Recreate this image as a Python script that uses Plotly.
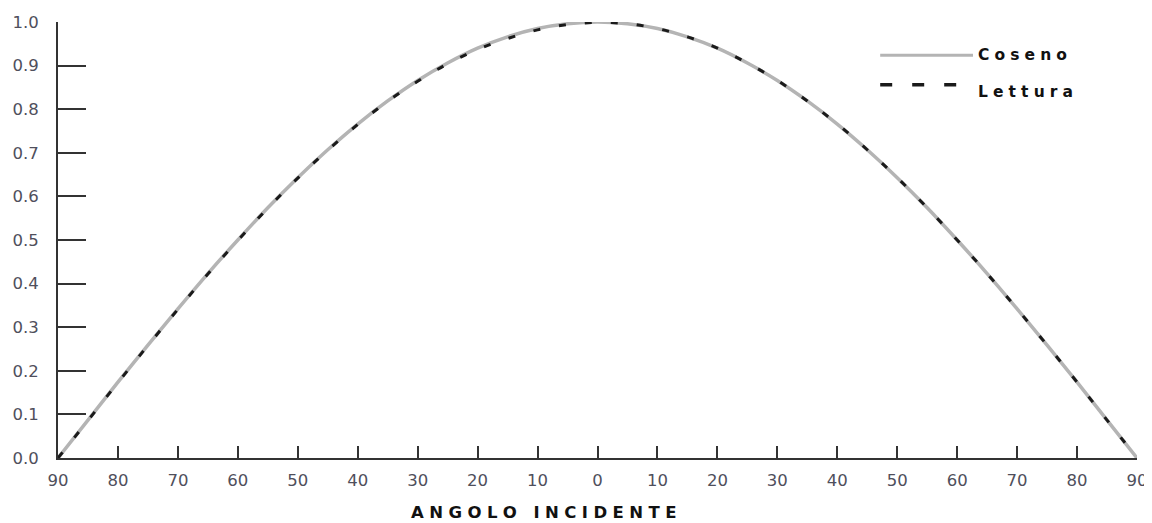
import plotly.graph_objects as go

# incidence angle, degrees (left half shown as 90..0, right half 0..90)
angles = [-90, -85, -80, -75, -70, -65, -60, -55, -50, -45, -40, -35, -30,
          -25, -20, -15, -10, -5, 0, 5, 10, 15, 20, 25, 30, 35, 40, 45, 50,
          55, 60, 65, 70, 75, 80, 85, 90]

coseno = [0.000, 0.087, 0.174, 0.259, 0.342, 0.423, 0.500, 0.574, 0.643,
          0.707, 0.766, 0.819, 0.866, 0.906, 0.940, 0.966, 0.985, 0.996,
          1.000, 0.996, 0.985, 0.966, 0.940, 0.906, 0.866, 0.819, 0.766,
          0.707, 0.643, 0.574, 0.500, 0.423, 0.342, 0.259, 0.174, 0.087,
          0.000]

lettura = [0.000, 0.086, 0.173, 0.258, 0.341, 0.422, 0.499, 0.573, 0.642,
           0.706, 0.765, 0.818, 0.864, 0.904, 0.937, 0.962, 0.982, 0.994,
           0.999, 0.996, 0.985, 0.966, 0.940, 0.906, 0.866, 0.819, 0.766,
           0.707, 0.643, 0.574, 0.500, 0.423, 0.342, 0.259, 0.174, 0.087,
           0.000]

x_ticks = [-90, -80, -70, -60, -50, -40, -30, -20, -10, 0,
           10, 20, 30, 40, 50, 60, 70, 80, 90]
x_ticktext = ["90", "80", "70", "60", "50", "40", "30", "20", "10", "0",
              "10", "20", "30", "40", "50", "60", "70", "80", "90"]
y_ticks = [0.0, 0.1, 0.2, 0.3, 0.4, 0.5, 0.6, 0.7, 0.8, 0.9, 1.0]

TICK_FONT = dict(family="DejaVu Sans", size=16.5, color="#4f4f5c")
BOLD_FONT = dict(family="DejaVu Sans", size=15.5, color="#111111", weight="bold")


def spaced(s):
    # wide letter spacing as in the original
    return "\u2004".join(s)


fig = go.Figure()

fig.add_trace(go.Scatter(
    x=angles, y=coseno, mode="lines", name="Coseno",
    line=dict(color="#b4b4b4", width=3.5, shape="spline"),
    showlegend=False,
))
fig.add_trace(go.Scatter(
    x=angles, y=lettura, mode="lines", name="Lettura",
    line=dict(color="#1a1a1a", width=3, dash="7px,19px", shape="spline"),
    showlegend=False,
))

# hand-drawn legend, top right
fig.add_shape(type="line", xref="paper", yref="paper",
              x0=0.762, x1=0.848, y0=0.924, y1=0.924,
              line=dict(color="#b4b4b4", width=3))
fig.add_shape(type="line", xref="paper", yref="paper",
              x0=0.762, x1=0.834, y0=0.856, y1=0.856,
              line=dict(color="#1a1a1a", width=3.5, dash="12px,20px"))
fig.add_annotation(text=spaced("Coseno"), xref="paper", yref="paper",
                   x=0.851, y=0.924, xanchor="left", yanchor="middle",
                   showarrow=False, font=BOLD_FONT)
fig.add_annotation(text=spaced("Lettura"), xref="paper", yref="paper",
                   x=0.851, y=0.839, xanchor="left", yanchor="middle",
                   showarrow=False, font=BOLD_FONT)

# x axis title
fig.add_annotation(text=spaced("ANGOLO INCIDENTE"), xref="paper", yref="paper",
                   x=0.45, y=-0.126, xanchor="center", yanchor="middle",
                   showarrow=False,
                   font=dict(family="DejaVu Sans", size=16.5, color="#111111",
                             weight="bold"))

# page body adds 8px offset, so the figure is sized to fit the window
fig.update_layout(
    width=1144, height=515,
    margin=dict(l=50, r=15, t=14, b=65),
    plot_bgcolor="white", paper_bgcolor="white",
    xaxis=dict(
        range=[-90, 90], tickvals=x_ticks, ticktext=x_ticktext,
        showgrid=False, zeroline=False, automargin=False,
        showline=True, linecolor="#333333", linewidth=2,
        ticks="inside", ticklen=12, tickwidth=2, tickcolor="#333333",
        tickfont=TICK_FONT, ticklabelstandoff=6,
    ),
    yaxis=dict(
        range=[0, 1], tickvals=y_ticks, tickformat=".1f",
        showgrid=False, zeroline=False, automargin=False,
        showline=True, linecolor="#333333", linewidth=2,
        ticks="inside", ticklen=28, tickwidth=2, tickcolor="#333333",
        tickfont=TICK_FONT, ticklabelstandoff=14,
    ),
)

fig.write_html("out.html")
